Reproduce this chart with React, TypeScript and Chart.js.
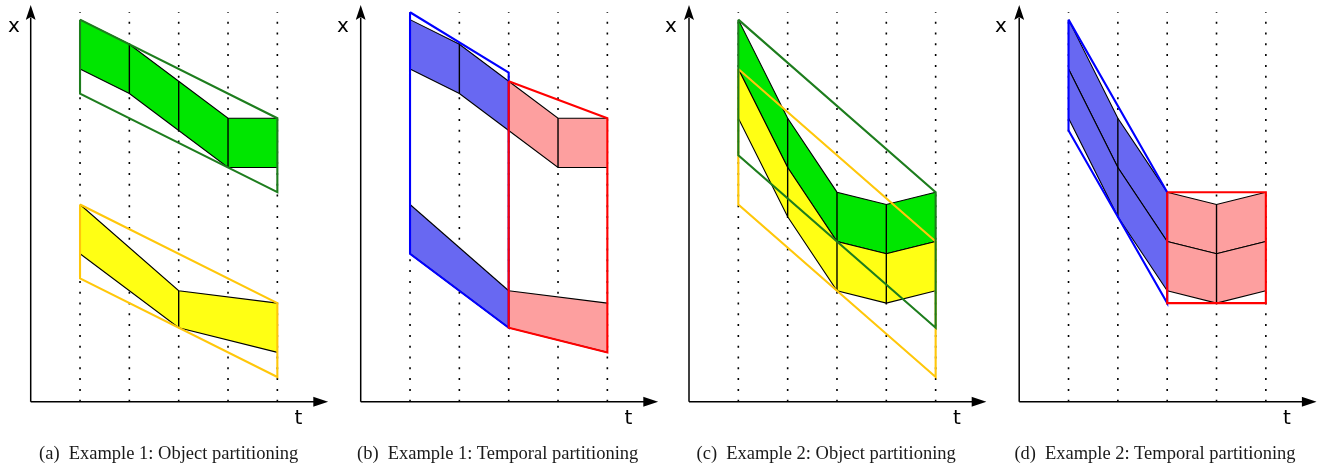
import React, { useEffect, useRef } from 'react';
import { Chart, registerables } from 'chart.js';
Chart.register(...registerables);

// ---------- data ----------
// time steps (dotted lines)
const T = [1, 2, 3, 4, 5];
const T13 = [1, 2, 3];
const T35 = [3, 4, 5];

// Example 1: green object, cells per time step
const ex1GreenTop = [15.5, 14.5, 13, 11.5, 11.5];
const ex1GreenBottom = [13.5, 12.5, 11, 9.5, 9.5];
// Example 1: yellow object (two cells)
const ex1YellowT = [1, 3, 5];
const ex1YellowTop = [8, 4.5, 4];
const ex1YellowBottom = [6, 3, 2];
// Example 1: object-partitioning boxes
const boxT15 = [1, 5, 5, 1, 1];
const ex1GreenBoxX = [15.5, 11.5, 8.5, 12.5, 15.5];
const ex1YellowBoxX = [8, 4, 1, 5, 8];
// Example 1: temporal-partitioning boxes
const boxT13 = [1, 3, 3, 1, 1];
const boxT35 = [3, 5, 5, 3, 3];
const ex1BlueBoxX = [15.8, 13.35, 3, 6, 15.8];
const ex1RedBoxX = [13, 11.5, 2, 3, 13];

// Example 2: green (top), shared boundary, yellow (bottom)
const ex2Top = [15.5, 11.5, 8.5, 8, 8.5];
const ex2Mid = [13.5, 9.5, 6.5, 6, 6.5];
const ex2Bottom = [11.5, 7.5, 4.5, 4, 4.5];
const ex2GreenBoxX = [15.5, 8.5, 3, 10, 15.5];
const ex2YellowBoxX = [13.5, 6.5, 1, 8, 13.5];
const ex2BlueBoxX = [15.5, 8.5, 4, 11, 15.5];
const ex2RedBoxX = [8.5, 8.5, 4, 4, 8.5];

const captions = [
  ['(a)', 'Example 1: Object partitioning'],
  ['(b)', 'Example 1: Temporal partitioning'],
  ['(c)', 'Example 2: Object partitioning'],
  ['(d)', 'Example 2: Temporal partitioning'],
];

// ---------- styles ----------
const INK = '#000000';
const GREEN_FILL = '#00e600';
const GREEN_LINE = '#1d7d1d';
const YELLOW_FILL = '#ffff14';
const YELLOW_LINE = '#ffc70a';
const BLUE_FILL = '#6868f2';
const BLUE_LINE = '#0000ff';
const RED_FILL = '#fd9f9f';
const RED_LINE = '#ff0000';

const SX = 49.33; // px per time unit
const SY = 24.65; // px per x unit
const H = 467;
const AXIS_Y_PX = 401.7;
const AXIS_T_END = 6.03;
const AXIS_X_END = 16.09;
const DOT_TOP = 15.8;

const pts = (t: number[], x: number[]) => t.map((v, i) => ({ x: v, y: x[i] }));
const pick = (t: number[], x: number[], sub: number[]) => sub.map((s) => x[t.indexOf(s)]);

function band(t: number[], top: number[], bottom: number[], color: string) {
  return [
    { data: pts(t, top), borderColor: INK, borderWidth: 1.1, backgroundColor: color, fill: '+1' },
    { data: pts(t, bottom), borderColor: INK, borderWidth: 1.1, fill: false },
  ];
}
function divider(t: number, lo: number, hi: number) {
  return { data: [{ x: t, y: lo }, { x: t, y: hi }], borderColor: INK, borderWidth: 1.4, fill: false };
}
function box(t: number[], x: number[], color: string) {
  return { data: pts(t, x), borderColor: color, borderWidth: 2.1, fill: false, borderJoinStyle: 'miter' };
}
function frame() {
  const ds: any[] = [];
  T.forEach((t) =>
    ds.push({ data: [{ x: t, y: 0 }, { x: t, y: DOT_TOP }], borderColor: INK, borderWidth: 1.6, borderDash: [2, 8.8], fill: false })
  );
  return ds;
}
function axes() {
  const hx = 5 / SX;
  const hy = 5 / SY;
  const tb = AXIS_T_END - 15 / SX;
  const xb = AXIS_X_END - 15 / SY;
  return [
    { data: [{ x: 0, y: 0 }, { x: tb + 0.05, y: 0 }], borderColor: INK, borderWidth: 1.5, fill: false },
    { data: [{ x: 0, y: 0 }, { x: 0, y: xb + 0.1 }], borderColor: INK, borderWidth: 1.5, fill: false },
    { data: [{ x: tb, y: hy }, { x: AXIS_T_END, y: 0 }], borderWidth: 0, borderColor: INK, backgroundColor: INK, fill: '+1' },
    { data: [{ x: tb, y: -hy }, { x: AXIS_T_END, y: 0 }], borderWidth: 0, borderColor: INK, fill: false },
    { data: [{ x: -hx, y: xb }, { x: 0, y: AXIS_X_END }, { x: hx, y: xb }], borderWidth: 0, borderColor: INK, backgroundColor: INK, fill: '+1' },
    { data: [{ x: -hx, y: xb }, { x: 0, y: xb + 3 / SY }, { x: hx, y: xb }], borderWidth: 0, borderColor: INK, fill: false },
  ];
}

const builders: (() => any[])[] = [
  // (a)
  () => [
    ...frame(),
    ...band(T, ex1GreenTop, ex1GreenBottom, GREEN_FILL),
    divider(2, ex1GreenBottom[1], ex1GreenTop[1]),
    divider(3, ex1GreenBottom[2], ex1GreenTop[2]),
    divider(4, ex1GreenBottom[3], ex1GreenTop[3]),
    ...band(ex1YellowT, ex1YellowTop, ex1YellowBottom, YELLOW_FILL),
    divider(3, ex1YellowBottom[1], ex1YellowTop[1]),
    box(boxT15, ex1GreenBoxX, GREEN_LINE),
    box(boxT15, ex1YellowBoxX, YELLOW_LINE),
    ...axes(),
  ],
  // (b)
  () => [
    ...frame(),
    ...band(T13, pick(T, ex1GreenTop, T13), pick(T, ex1GreenBottom, T13), BLUE_FILL),
    divider(2, ex1GreenBottom[1], ex1GreenTop[1]),
    ...band([1, 3], pick(ex1YellowT, ex1YellowTop, [1, 3]), pick(ex1YellowT, ex1YellowBottom, [1, 3]), BLUE_FILL),
    ...band(T35, pick(T, ex1GreenTop, T35), pick(T, ex1GreenBottom, T35), RED_FILL),
    divider(4, ex1GreenBottom[3], ex1GreenTop[3]),
    ...band([3, 5], pick(ex1YellowT, ex1YellowTop, [3, 5]), pick(ex1YellowT, ex1YellowBottom, [3, 5]), RED_FILL),
    box(boxT13, ex1BlueBoxX, BLUE_LINE),
    box(boxT35, ex1RedBoxX, RED_LINE),
    ...axes(),
  ],
  // (c)
  () => [
    ...frame(),
    ...band(T, ex2Top, ex2Mid, GREEN_FILL),
    ...band(T, ex2Mid, ex2Bottom, YELLOW_FILL),
    divider(2, ex2Bottom[1], ex2Top[1]),
    divider(3, ex2Bottom[2], ex2Top[2]),
    divider(4, ex2Bottom[3], ex2Top[3]),
    box(boxT15, ex2YellowBoxX, YELLOW_LINE),
    box(boxT15, ex2GreenBoxX, GREEN_LINE),
    ...axes(),
  ],
  // (d)
  () => [
    ...frame(),
    ...band(T13, pick(T, ex2Top, T13), pick(T, ex2Mid, T13), BLUE_FILL),
    ...band(T13, pick(T, ex2Mid, T13), pick(T, ex2Bottom, T13), BLUE_FILL),
    divider(2, ex2Bottom[1], ex2Top[1]),
    ...band(T35, pick(T, ex2Top, T35), pick(T, ex2Mid, T35), RED_FILL),
    ...band(T35, pick(T, ex2Mid, T35), pick(T, ex2Bottom, T35), RED_FILL),
    divider(4, ex2Bottom[3], ex2Top[3]),
    box(boxT13, ex2BlueBoxX, BLUE_LINE),
    box(boxT35, ex2RedBoxX, RED_LINE),
    ...axes(),
  ],
];

const panels = [
  { left: 0, width: 330, axisPx: 30.7, xLab: 8, tLab: 294.5, cap: 168.7 },
  { left: 330, width: 330, axisPx: 30.7, xLab: 337, tLab: 624.5, cap: 497.7 },
  { left: 660, width: 330, axisPx: 29, xLab: 665, tLab: 953, cap: 826.2 },
  { left: 990, width: 338, axisPx: 29.2, xLab: 995, tLab: 1283, cap: 1155 },
];

function Panel({ idx }: { idx: number }) {
  const ref = useRef<HTMLCanvasElement>(null);
  const p = panels[idx];
  useEffect(() => {
    const paint = builders[idx]();
    const n = paint.length;
    const datasets = paint.map((d, i) => ({ pointRadius: 0, tension: 0, ...d, order: n - i }));
    const tMin = -p.axisPx / SX;
    const xMin = -(H - AXIS_Y_PX) / SY;
    const chart = new Chart(ref.current as HTMLCanvasElement, {
      type: 'line',
      data: { datasets } as any,
      options: {
        animation: false,
        responsive: false,
        maintainAspectRatio: false,
        events: [],
        layout: { padding: 0 },
        plugins: {
          legend: { display: false },
          tooltip: { enabled: false },
          colors: { enabled: false },
        } as any,
        scales: {
          x: { type: 'linear', min: tMin, max: tMin + p.width / SX, display: false },
          y: { type: 'linear', min: xMin, max: AXIS_Y_PX / SY, display: false },
        },
      },
    });
    return () => chart.destroy();
  }, []);
  return (
    <canvas
      ref={ref}
      width={p.width}
      height={H}
      style={{ position: 'absolute', left: p.left, top: 0, width: p.width, height: H }}
    />
  );
}

export default function App() {
  return (
    <div style={{ position: 'absolute', left: 0, top: 0, width: 1328, height: H, background: '#fff', overflow: 'hidden' }}>
      {panels.map((p, i) => (
        <Panel key={i} idx={i} />
      ))}
      {panels.map((p, i) => (
        <React.Fragment key={'l' + i}>
          <div style={{ position: 'absolute', left: p.xLab, top: 14.8, fontFamily: 'DejaVu Sans', fontSize: 20, lineHeight: '20px', color: '#000' }}>x</div>
          <div style={{ position: 'absolute', left: p.tLab, top: 407.1, fontFamily: 'DejaVu Sans', fontSize: 20, lineHeight: '20px', color: '#000' }}>t</div>
          <div
            style={{
              position: 'absolute',
              left: p.cap - 160,
              width: 320,
              top: 443.5,
              textAlign: 'center',
              fontFamily: '"Liberation Serif", serif',
              fontSize: 18.5,
              lineHeight: '18px',
              color: '#1a1a1a',
              whiteSpace: 'nowrap',
            }}
          >
            <span>{captions[i][0]}</span>
            <span style={{ marginLeft: 9 }}>{captions[i][1]}</span>
          </div>
        </React.Fragment>
      ))}
    </div>
  );
}
